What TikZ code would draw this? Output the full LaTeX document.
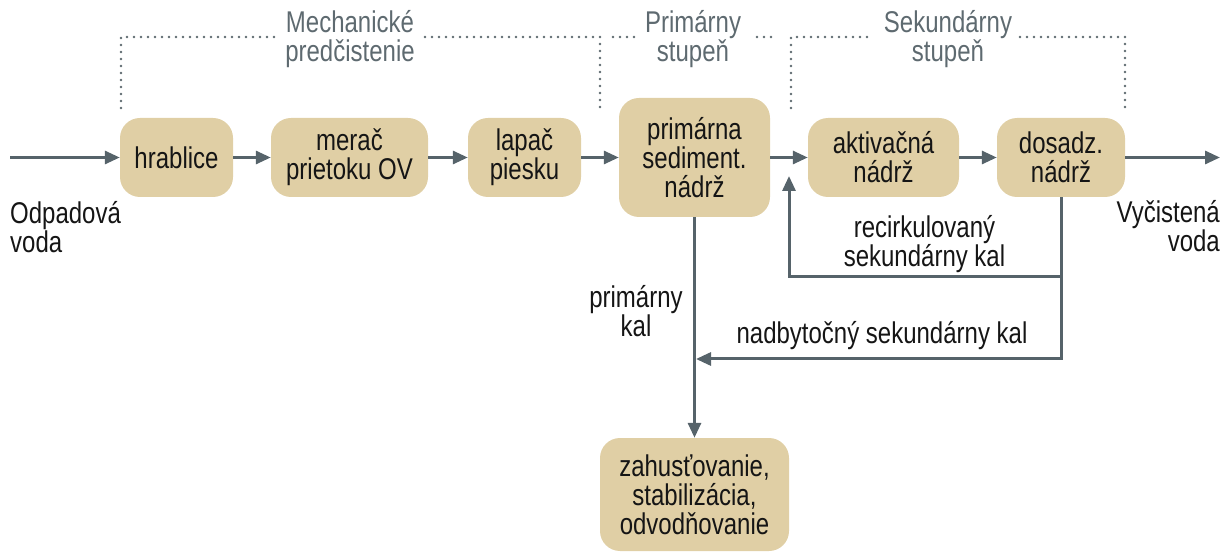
\documentclass[tikz,border=0pt]{standalone}
\usepackage{fontspec}
\setmainfont{Liberation Sans}[FakeStretch=0.8]
\usetikzlibrary{arrows.meta}
\definecolor{boxfill}{HTML}{E0CFA5}
\definecolor{arrowc}{HTML}{56636A}
\definecolor{grp}{HTML}{5E6A70}
\definecolor{txt}{HTML}{151515}
\begin{document}
\begin{tikzpicture}[x=1pt,y=-1pt,
  every node/.style={font=\fontsize{30}{29}\selectfont, text=txt, inner sep=0pt},
  stage/.style={fill=boxfill, rounded corners=20pt, align=center},
  flow/.style={draw=arrowc, line width=3pt, -{Triangle[length=15pt,width=13pt]}},
  grpline/.style={draw=grp, line width=2.6pt, line cap=round, dash pattern=on 0pt off 7pt},
  grplabel/.style={text=grp, align=center},
  lbl/.style={align=center}]
\useasboundingbox (0,0) rectangle (1224,553);

% stages
\node[stage, minimum width=113pt, minimum height=79pt] (hrab) at (176.5,157.5) {hrablice};
\node[stage, minimum width=157pt, minimum height=79pt] (merac) at (349.5,157.5) {merač\\prietoku OV};
\node[stage, minimum width=113pt, minimum height=79pt] (lapac) at (524.5,157.5) {lapač\\piesku};
\node[stage, minimum width=151pt, minimum height=119pt] (prim) at (694.5,157.5) {primárna\\sediment.\\nádrž};
\node[stage, minimum width=151pt, minimum height=79pt] (aktiv) at (883.5,157.5) {aktivačná\\nádrž};
\node[stage, minimum width=128pt, minimum height=79pt] (dosadz) at (1061,157.5) {dosadz.\\nádrž};
\node[stage, minimum width=189pt, minimum height=113pt] (zah) at (694.5,494.5) {zahusťovanie,\\stabilizácia,\\odvodňovanie};

% free ends and corners
\coordinate (in) at (10,157.5);
\coordinate (out) at (1220,157.5);
\coordinate (j1) at (1061,277);
\coordinate (j2) at (1061,359);
\coordinate (r1) at (789,277);
\coordinate (r2) at (789,176);
\coordinate (e1) at (696,359);

% main flow
\draw[flow] (in) -- (hrab.west);
\draw[flow] (hrab) -- (merac);
\draw[flow] (merac) -- (lapac);
\draw[flow] (lapac) -- (prim);
\draw[flow] (prim) -- (aktiv);
\draw[flow] (aktiv) -- (dosadz);
\draw[flow] (dosadz.east) -- (out);
\draw[flow] (dosadz.south) -- (j2) -- (e1);
\draw[flow] (j1) -- (r1) -- (r2);
\draw[flow] (prim.south) -- (zah.north);

% labels
\node[anchor=west, align=left] (odp) at (10,227.5) {Odpadová\\voda};
\node[anchor=east, align=right] (vyc) at (1220,226.5) {Vyčistená\\voda};
\node[lbl] (reclbl) at (924.5,244) {recirkulovaný\\sekundárny kal};
\node[lbl] (primlbl) at (636,311.5) {primárny\\kal};
\node[lbl] (nadlbl) at (882,336) {nadbytočný sekundárny kal};

% group brackets
\node[grplabel] (mechlbl) at (350,39) {Mechanické\\predčistenie};
\node[grplabel] (primgrp) at (693,39) {Primárny\\stupeň};
\node[grplabel] (sekgrp) at (948,39) {Sekundárny\\stupeň};
\draw[grpline] (121,108) -- (121,37) -- (277,37);
\draw[grpline] (425,37) -- (600,37) -- (600,108);
\draw[grpline] (613,37) -- (634,37);
\draw[grpline] (757,37) -- (776,37);
\draw[grpline] (791,108) -- (791,37) -- (874,37);
\draw[grpline] (1020,37) -- (1125,37) -- (1125,108);
\end{tikzpicture}
\end{document}
